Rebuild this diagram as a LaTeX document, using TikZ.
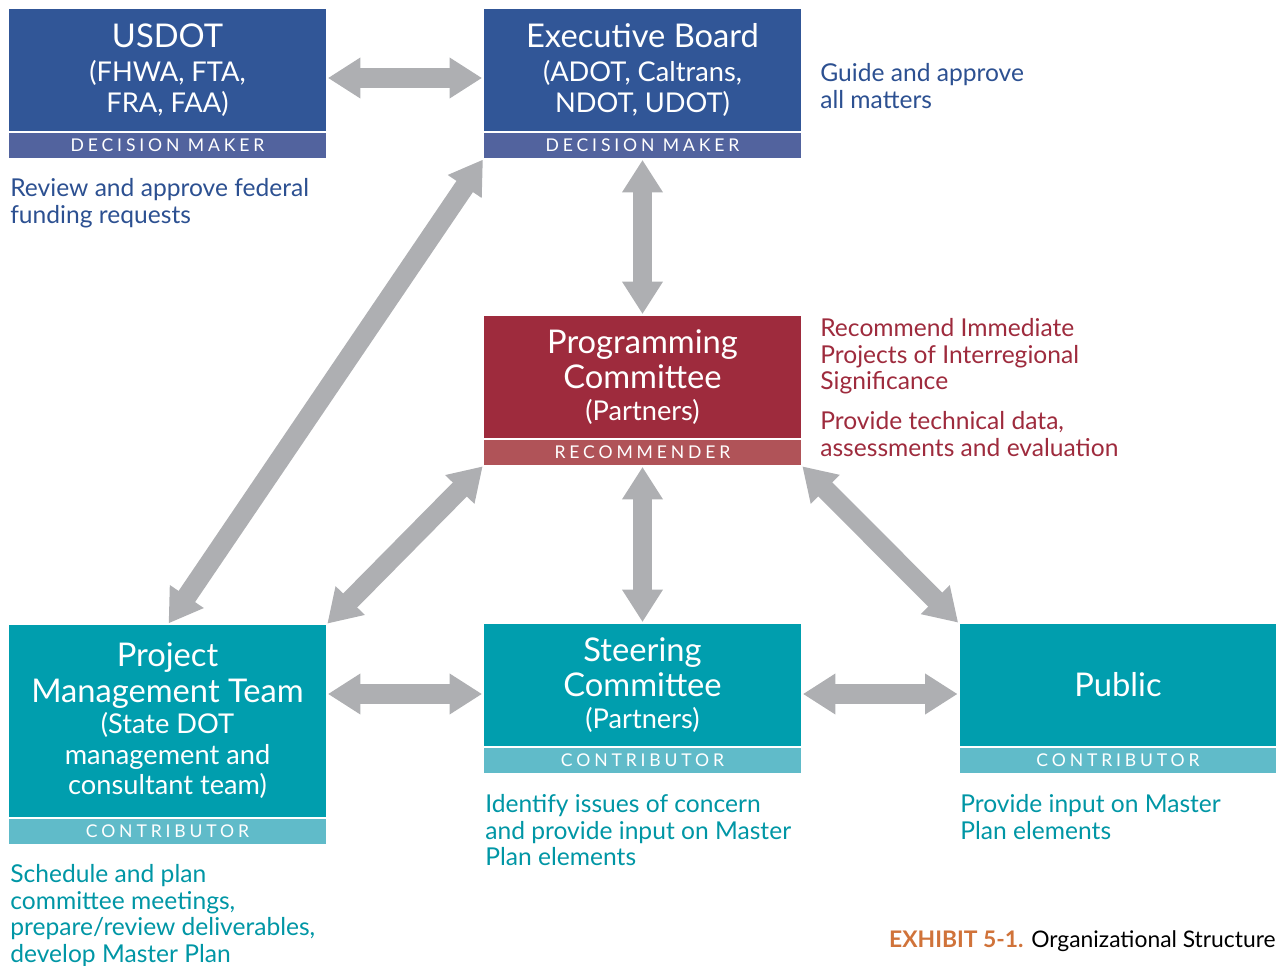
\documentclass[tikz,border=0pt]{standalone}
\usepackage{fontspec}
\setmainfont{Lato}
\newfontfamily\bandfont[LetterSpace=22]{Lato}
\usetikzlibrary{positioning,arrows.meta}

\definecolor{boxblue}{RGB}{49,86,151}
\definecolor{bandblue}{RGB}{82,99,158}
\definecolor{boxred}{RGB}{158,43,61}
\definecolor{bandred}{RGB}{176,83,88}
\definecolor{boxteal}{RGB}{0,158,174}
\definecolor{bandteal}{RGB}{96,187,201}
\definecolor{noteblue}{RGB}{44,80,145}
\definecolor{notered}{RGB}{158,43,61}
\definecolor{noteteal}{RGB}{0,150,165}
\definecolor{linkgray}{RGB}{174,175,178}
\definecolor{exhibit}{RGB}{208,115,58}

% the sizes switch back at each \\ inside a node, so each line carries its own
\newcommand{\ttl}{\fontsize{18.6}{19.8}\selectfont}
\newcommand{\subsize}{\fontsize{15.5}{17.6}\selectfont}
\newcommand{\notesize}{\fontsize{14}{15.2}\selectfont}

\tikzset{
  unit/.style={minimum width=6.34cm,minimum height=2.44cm,inner sep=0pt,outer sep=0pt,
    text=white,align=center,font=\subsize},
  band/.style={minimum width=6.34cm,minimum height=0.5cm,inner sep=0pt,outer sep=0pt,
    text=white,font=\bandfont\fontsize{10}{12}\selectfont,below=0.04cm of #1},
  note/.style={anchor=north west,inner sep=0pt,align=left,font=\notesize},
  link/.style={draw=linkgray,line width=11.3pt,
    {Triangle[width=22pt,length=18.5pt]}-{Triangle[width=22pt,length=18.5pt]},
    shorten <=1.1pt,shorten >=1.1pt},
}

\begin{document}
\begin{tikzpicture}[x=0.02cm,y=-0.02cm]
\useasboundingbox (0,0) rectangle (1276,966);

% decision makers
\node[unit,fill=boxblue] (usdot) at (167.5,70)
  {\ttl USDOT\\[1.5pt](FHWA, FTA,\\FRA, FAA)};
\node[band=usdot,fill=bandblue] (usdotband) {DECISION MAKER};
\node[unit,fill=boxblue] (exec) at (642.5,70)
  {\ttl Executive Board\\[1.5pt](ADOT, Caltrans,\\NDOT, UDOT)};
\node[band=exec,fill=bandblue] (execband) {DECISION MAKER};

% recommender
\node[unit,fill=boxred] (prog) at (642.5,377)
  {\ttl Programming\\[2.5pt]\ttl Committee\\[0.5pt](Partners)};
\node[band=prog,fill=bandred] (progband) {RECOMMENDER};

% contributors
\node[unit,fill=boxteal,minimum height=3.84cm] (pmt) at (167.5,721)
  {\ttl Project\\[2.5pt]\ttl Management Team\\(State DOT\\management and\\consultant team)};
\node[band=pmt,fill=bandteal] (pmtband) {CONTRIBUTOR};
\node[unit,fill=boxteal] (steer) at (642.5,685)
  {\ttl Steering\\[2.5pt]\ttl Committee\\[0.5pt](Partners)};
\node[band=steer,fill=bandteal] (steerband) {CONTRIBUTOR};
\node[unit,fill=boxteal] (public) at (1118,685) {\ttl Public};
\node[band=public,fill=bandteal] (publicband) {CONTRIBUTOR};

% roles
\node[note,text=noteblue] (usdotnote) at (10,178)
  {Review and approve federal\\funding requests};
\node[note,text=noteblue] (execnote) at (820,63)
  {Guide and approve\\all matters};
\node[note,text=notered] (prognote) at (820,318)
  {Recommend Immediate\\Projects of Interregional\\Significance};
\node[note,text=notered] (prognote2) at (820,411)
  {Provide technical data,\\assessments and evaluation};
\node[note,text=noteteal] (pmtnote) at (10,864)
  {Schedule and plan\\committee meetings,\\prepare/review deliverables,\\develop Master Plan};
\node[note,text=noteteal] (steernote) at (485,794)
  {Identify issues of concern\\and provide input on Master\\Plan elements};
\node[note,text=noteteal] (publicnote) at (960,794)
  {Provide input on Master\\Plan elements};

\node[anchor=base east,inner sep=0pt,font=\fontsize{13}{15}\selectfont] (caption) at (1276,947)
  {\textcolor{exhibit}{\textbf{EXHIBIT 5-1.}} Organizational Structure};

% links
\coordinate (ua) at ([yshift=-0.16cm]usdot.east);
\coordinate (sa) at ([yshift=-0.18cm]steer.west);
\coordinate (sb) at ([yshift=-0.18cm]steer.east);
\draw[link] (ua) -- (exec.west |- ua);
\draw[link] (execband.south) -- (prog.north);
\draw[link] (execband.south west) -- (pmt.north);
\draw[link] (progband.south west) -- (pmt.north east);
\draw[link] (progband.south) -- (steer.north);
\draw[link] (progband.south east) -- (public.north west);
\draw[link] (pmt.east |- sa) -- (sa);
\draw[link] (sb) -- (public.west |- sb);
\end{tikzpicture}
\end{document}
